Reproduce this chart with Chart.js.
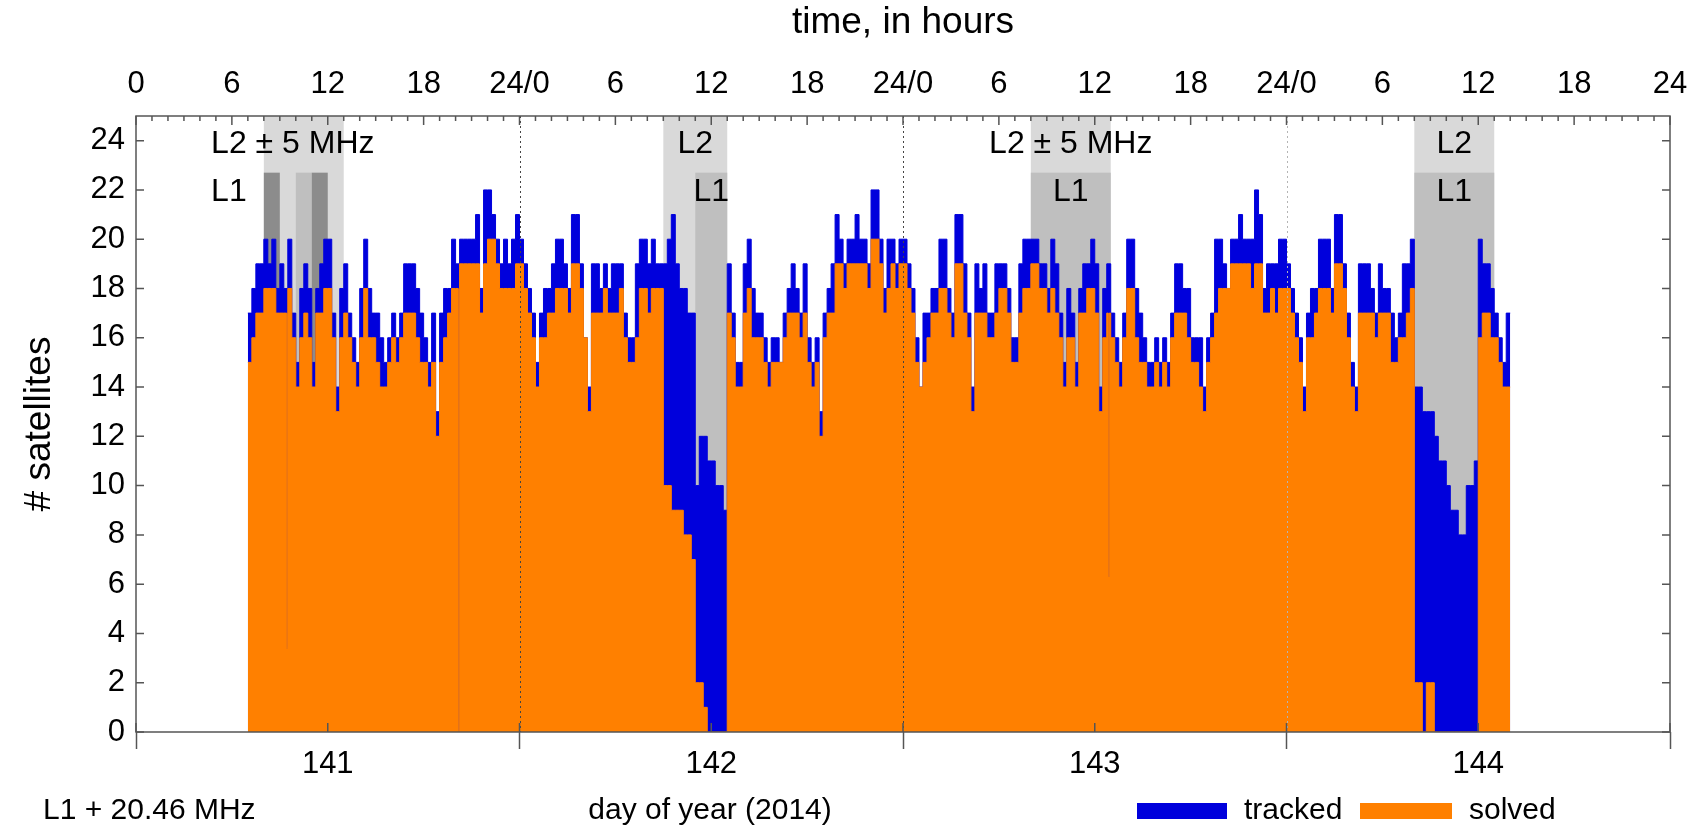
<!DOCTYPE html>
<html>
<head>
<meta charset="utf-8">
<title>Satellites tracked and solved, days 141-144 of 2014</title>
<script src="https://cdn.jsdelivr.net/npm/chart.js@4.4.1/dist/chart.umd.min.js"></script>
<style>
  html, body { margin: 0; padding: 0; background: #fff; }
  #wrap { width: 1706px; height: 831px; }
</style>
</head>
<body>
<div id="wrap"><canvas id="chart" width="1706" height="831"></canvas></div>
<script>
// x is hours since day 141, 00:00. One sample every 15 minutes.
const STEP = 0.25;
const dayNames = ['141', '142', '143', '144'];
const dayBounds = [0, 24, 48, 72, 96];
const dayCentres = [12, 36, 60, 84];
const hourTicks = [0, 6, 12, 18, 24, 30, 36, 42, 48, 54, 60, 66, 72, 78, 84, 90, 96];
const satTicks = [0, 2, 4, 6, 8, 10, 12, 14, 16, 18, 20, 22, 24];

// day 141 starts at 07:00, day 144 ends at 14:00
const start141 = 7;
const end144 = 14;

const tracked141 = [
  17,18,19,19, 20,19,20,18, 19,18,20,17, 15,18,19,18, 15,18,19,20, 20,17,14,18,
  19,17,16,15, 18,20,18,17, 17,16,15,16, 17,16,17,19, 19,19,18,17, 16,15,17,13,
  17,18,18,20, 19,20,20,20, 20,21,18,22, 22,21,20,19, 20,19,20,21
];
const solved141 = [
  15,16,17,17, 18,18,18,17, 17,17,18,16, 14,16,17,16, 14,17,17,18, 18,16,13,16,
  17,16,15,14, 16,18,16,16, 15,14,14,15, 16,15,16,17, 17,17,16,15, 15,14,15,12,
  15,16,17,18, 18,19,19,19, 19,19,17,19, 20,20,19,18, 18,18,18,19
];
const tracked142 = [
  20,19,18,17, 15,17,18,18, 19,20,20,19, 18,21,21,19, 16,14,19,19, 18,19,18,19,
  19,19,17,16, 16,19,20,20, 19,20,19,19, 19,20,21,19, 18,18,17,17, 10,12,12,11,
  11,10,10,9,  19,17,15,15, 19,20,18,17, 17,16,15,16, 16,15,17,18, 19,18,17,19,
  16,15,16,13, 17,18,19,21, 20,19,20,20, 21,20,20,19, 22,22,20,18, 20,20,19,20
];
const solved142 = [
  19,18,17,16, 14,16,16,17, 17,18,18,18, 17,19,19,18, 16,13,17,17, 17,18,17,17,
  17,18,16,15, 15,16,18,18, 17,18,18,18, 10,10,9,9,   9,8,8,7,     2,2,1,0,
  0,0,0,0,     17,16,14,14, 17,18,16,16, 16,15,14,15, 15,15,16,17, 17,17,16,17,
  15,14,15,12, 16,17,17,19, 19,18,19,19, 19,19,19,18, 20,20,19,17, 18,19,18,19
];
const tracked143 = [
  20,19,18,16, 14,17,17,18, 18,20,20,18, 17,21,21,19, 17,14,19,18, 19,17,17,19,
  19,19,18,16, 16,19,20,20, 20,20,19,19, 18,20,19,17, 15,18,17,15, 18,19,19,20,
  19,14,18,19, 17,16,15,17, 20,20,18,17, 16,15,15,16, 15,16,15,17, 19,19,18,18,
  16,16,16,14, 16,17,20,20, 19,18,20,20, 21,20,20,20, 22,21,18,19, 19,19,20,20
];
const solved143 = [
  19,18,17,15, 14,15,16,17, 17,18,18,17, 16,19,19,17, 16,13,17,17, 17,16,16,17,
  18,18,17,15, 15,17,18,18, 19,19,18,18, 17,18,17,16, 14,16,16,14, 17,17,18,18,
  17,13,16,17, 16,15,14,16, 18,18,16,15, 15,14,14,15, 14,15,14,16, 17,17,17,16,
  15,15,14,13, 15,16,17,18, 18,18,19,19, 19,19,19,18, 19,19,17,17, 18,17,18,18
];
const tracked144 = [
  19,18,17,16, 14,17,18,18, 20,20,20,18, 21,21,19,17, 15,14,19,19, 19,18,17,19,
  18,18,17,16, 17,19,19,20, 14,14,13,13, 13,12,11,11, 10,9,9,8,   8,10,10,11,
  20,19,19,18, 17,16,15,17
];
const solved144 = [
  18,17,16,15, 13,16,16,17, 18,18,18,17, 19,19,18,16, 14,13,17,17, 17,17,16,17,
  17,17,15,15, 16,16,17,18, 2,2,0,2,     2,0,0,0,     0,0,0,0,     0,0,0,0,
  16,17,17,16, 16,15,14,14
];

// single-sample drops of the solved count
const dropHour = [9.43, 20.17, 60.85];
const dropValue = [3.4, 0, 6.3];
const DROP_WIDTH = 0.06;

// receiver test windows (hours since day 141 00:00); kind: L2 band, L1 band, L1 strong
const bandFrom = [8, 8, 10, 11, 33, 35, 56, 56, 80, 80];
const bandTo   = [13, 9, 11, 12, 37, 37, 61, 61, 85, 85];
const bandTop  = [25, 22.7, 22.7, 22.7, 25, 22.7, 25, 22.7, 25, 22.7];
const bandKind = ['L2', 'L1s', 'L1', 'L1s', 'L2', 'L1', 'L2', 'L1', 'L2', 'L1'];

const bandLabelText  = ['L2 \u00b1 5 MHz', 'L1', 'L2', 'L1', 'L2 \u00b1 5 MHz', 'L1', 'L2', 'L1'];
const bandLabelHour  = [4.7, 4.7, 35, 36, 58.5, 58.5, 82.5, 82.5];
const bandLabelValue = [23.85, 21.9, 23.85, 21.9, 23.85, 21.9, 23.85, 21.9];
const bandLabelAlign = ['left', 'left', 'center', 'center', 'center', 'center', 'center', 'center'];

// ---- styles ----
const BLUE = '#0000dc';
const ORANGE = '#ff8000';
const FRAME = '#555555';
const SHADE = { L2: '#d9d9d9', L1: '#bfbfbf', L1s: '#8c8c8c' };
const DOTS = ['#444444', '#444444', '#b4b4b4'];
const FAMILY = "'Liberation Sans', Arial, sans-serif";
const FS_TICK = 31;
const FS_TITLE = 37;
const FS_BAND = 32;
const FS_ROW = 30;

function toPoints(parts) {
  const pts = [];
  parts.forEach(([offset, values]) => {
    values.forEach((v, i) => pts.push({ x: offset + i * STEP, y: v }));
  });
  return pts;
}

const trackedPts = toPoints([[start141, tracked141], [24, tracked142], [48, tracked143], [72, tracked144]]);
const solvedPts = toPoints([[start141, solved141], [24, solved142], [48, solved143], [72, solved144]]);
trackedPts.push({ x: 72 + end144, y: tracked144[tracked144.length - 1] });
solvedPts.push({ x: 72 + end144, y: solved144[solved144.length - 1] });

// splice the short drops into the solved series
dropHour.forEach((h, k) => {
  let i = solvedPts.findIndex(p => p.x > h);
  const held = solvedPts[i - 1].y;
  solvedPts.splice(i, 0, { x: h, y: dropValue[k] }, { x: h + DROP_WIDTH, y: held });
});

function hourLabel(v) {
  if (v === 0) return '0';
  if (v === 96) return '24';
  if (v % 24 === 0) return '24/0';
  return String(v % 24);
}

const decor = {
  id: 'decor',
  beforeDatasetsDraw(chart) {
    const { ctx, scales: { x, y } } = chart;
    ctx.save();
    bandFrom.forEach((f, i) => {
      const x1 = x.getPixelForValue(f);
      const x2 = x.getPixelForValue(bandTo[i]);
      const yt = y.getPixelForValue(bandTop[i]);
      const yb = y.getPixelForValue(0);
      ctx.fillStyle = SHADE[bandKind[i]];
      ctx.fillRect(x1, yt, x2 - x1, yb - yt);
    });
    ctx.restore();
  },
  afterDatasetsDraw(chart) {
    const { ctx, chartArea: a, scales: { x, y } } = chart;
    ctx.save();

    // dotted day boundaries
    ctx.lineWidth = 1;
    ctx.setLineDash([2, 3]);
    dayBounds.slice(1, -1).forEach((h, i) => {
      const px = Math.round(x.getPixelForValue(h)) + 0.5;
      ctx.strokeStyle = DOTS[i];
      ctx.beginPath(); ctx.moveTo(px, a.top); ctx.lineTo(px, a.bottom); ctx.stroke();
    });
    ctx.setLineDash([]);

    // inward tick marks
    ctx.strokeStyle = FRAME;
    ctx.lineWidth = 1.5;
    ctx.beginPath();
    for (let h = 0; h <= 96; h++) {
      const px = x.getPixelForValue(h);
      ctx.moveTo(px, a.top);
      ctx.lineTo(px, a.top + (h % 6 === 0 ? 9 : 5));
    }
    for (let h = 0; h <= 96; h += 12) {
      const px = x.getPixelForValue(h);
      ctx.moveTo(px, a.bottom);
      ctx.lineTo(px, a.bottom - 9);
    }
    satTicks.forEach(v => {
      const py = y.getPixelForValue(v);
      ctx.moveTo(a.left, py); ctx.lineTo(a.left + 8, py);
      ctx.moveTo(a.right, py); ctx.lineTo(a.right - 8, py);
    });
    ctx.stroke();

    // frame
    ctx.strokeRect(a.left, a.top, a.right - a.left, a.bottom - a.top);

    // band labels
    ctx.fillStyle = '#000';
    ctx.font = FS_BAND + 'px ' + FAMILY;
    ctx.textBaseline = 'middle';
    bandLabelText.forEach((t, i) => {
      ctx.textAlign = bandLabelAlign[i];
      ctx.fillText(t, x.getPixelForValue(bandLabelHour[i]), y.getPixelForValue(bandLabelValue[i]));
    });

    // bottom row: band note, axis title, legend
    const rowY = 811;
    ctx.font = FS_ROW + 'px ' + FAMILY;
    ctx.textAlign = 'left';
    ctx.fillText('L1 + 20.46 MHz', 43, rowY);
    ctx.textAlign = 'center';
    ctx.fillText('day of year (2014)', 710, rowY);
    ctx.textAlign = 'left';
    ctx.fillStyle = BLUE;
    ctx.fillRect(1137, rowY - 8, 90, 16);
    ctx.fillStyle = ORANGE;
    ctx.fillRect(1360, rowY - 8, 92, 16);
    ctx.fillStyle = '#000';
    ctx.fillText('tracked', 1244, rowY);
    ctx.fillText('solved', 1469, rowY);

    ctx.restore();
  }
};

const ctx = document.getElementById('chart').getContext('2d');
new Chart(ctx, {
  type: 'line',
  data: {
    datasets: [
      {
        label: 'solved',
        data: solvedPts,
        stepped: true,
        fill: 'origin',
        backgroundColor: ORANGE,
        borderColor: ORANGE,
        borderWidth: 1,
        pointRadius: 0
      },
      {
        label: 'tracked',
        data: trackedPts,
        stepped: true,
        fill: 'origin',
        backgroundColor: BLUE,
        borderColor: BLUE,
        borderWidth: 1,
        pointRadius: 0
      }
    ]
  },
  options: {
    responsive: false,
    animation: false,
    devicePixelRatio: 1,
    events: [],
    layout: { padding: { left: 0, right: 36, top: 0, bottom: 0 } },
    plugins: {
      legend: { display: false },
      tooltip: { enabled: false }
    },
    scales: {
      x: {
        type: 'linear',
        position: 'bottom',
        min: 0,
        max: 96,
        afterBuildTicks: s => { s.ticks = dayBounds.concat(dayCentres).sort((p, q) => p - q).map(v => ({ value: v })); },
        afterFit: s => { s.height = 99; },
        border: { display: false },
        grid: {
          display: true,
          drawOnChartArea: false,
          drawTicks: true,
          tickLength: 17,
          tickWidth: 1.5,
          tickColor: c => (c.tick && c.tick.value % 24 === 0 ? FRAME : 'rgba(0,0,0,0)')
        },
        ticks: {
          autoSkip: false,
          maxRotation: 0,
          padding: -3,
          color: '#000',
          font: { family: FAMILY, size: FS_TICK },
          callback: v => (v % 24 === 12 ? dayNames[(v - 12) / 24] : '')
        }
      },
      xTop: {
        type: 'linear',
        position: 'top',
        min: 0,
        max: 96,
        afterBuildTicks: s => { s.ticks = hourTicks.map(v => ({ value: v })); },
        afterFit: s => { s.height = 116; },
        border: { display: false },
        grid: { display: false, drawTicks: false },
        ticks: {
          autoSkip: false,
          maxRotation: 0,
          padding: 13,
          color: '#000',
          font: { family: FAMILY, size: FS_TICK },
          callback: v => hourLabel(v)
        },
        title: {
          display: true,
          text: 'time, in hours',
          color: '#000',
          font: { family: FAMILY, size: FS_TITLE },
          padding: { top: 1, bottom: 0 }
        }
      },
      y: {
        type: 'linear',
        position: 'left',
        min: 0,
        max: 25,
        afterBuildTicks: s => { s.ticks = satTicks.map(v => ({ value: v })); },
        afterFit: s => { s.width = 136; },
        border: { display: false },
        grid: { display: false, drawTicks: false },
        ticks: {
          padding: 11,
          color: '#000',
          font: { family: FAMILY, size: FS_TICK }
        },
        title: {
          display: true,
          text: '# satellites',
          color: '#000',
          font: { family: FAMILY, size: FS_TITLE },
          padding: { top: 18, bottom: 0 }
        }
      }
    }
  },
  plugins: [decor]
});
</script>
</body>
</html>
